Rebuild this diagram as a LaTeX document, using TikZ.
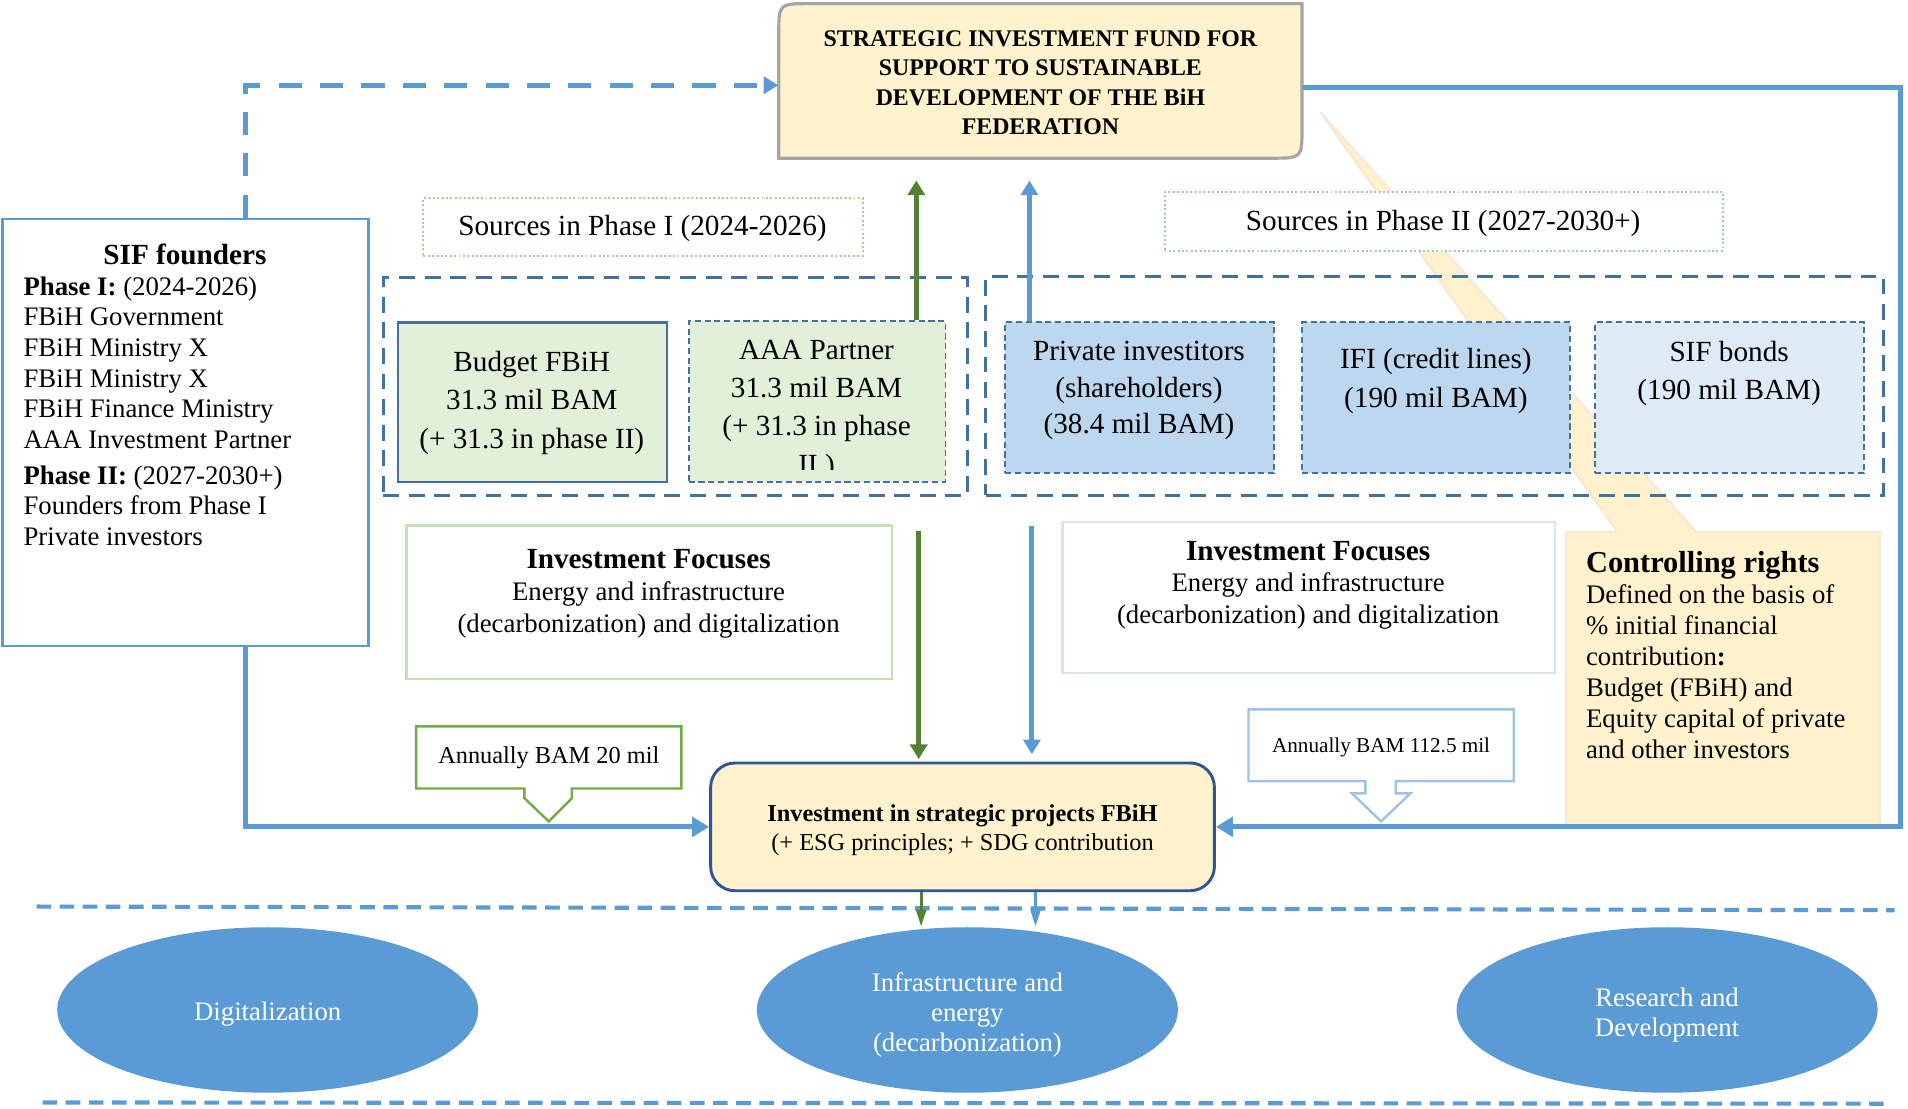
\documentclass[tikz,border=0pt]{standalone}
\usepackage{fontspec}
\setmainfont{Liberation Serif}
\usetikzlibrary{arrows.meta,fit,shapes.geometric}

\definecolor{sblue}{HTML}{5B9BD5}
\definecolor{dkblue}{HTML}{41719C}
\definecolor{navy}{HTML}{2F5597}
\definecolor{dkgreen}{HTML}{548235}
\definecolor{mgreen}{HTML}{70AD47}
\definecolor{palegreen}{HTML}{E2F0D9}
\definecolor{dotgreen}{HTML}{A9D18E}
\definecolor{focgreen}{HTML}{C5E0B4}
\definecolor{midblue}{HTML}{BDD7EE}
\definecolor{paleblue}{HTML}{DEEBF7}
\definecolor{dotblue}{HTML}{9DC3E6}
\definecolor{focblue}{HTML}{DAE3F3}
\definecolor{fundfill}{HTML}{FFF2CC}
\definecolor{fundgray}{HTML}{A5A5A5}
\definecolor{peach}{HTML}{FBE5D6}

\tikzset{
  txt/.style={inner sep=0pt, align=center, font=\fontsize{12}{15.75}\selectfont},
  focustxt/.style={inner sep=0pt, align=center, font=\fontsize{11}{13}\selectfont},
  srcbox/.style={draw=dkblue, line width=1pt, inner sep=0pt},
  dashbox/.style={srcbox, line width=0.8pt, dash pattern=on 2.5pt off 1.5pt},
  phasebox/.style={draw=dkblue, line width=1.3pt, dash pattern=on 6.5pt off 4pt, inner sep=0pt},
  dotbox/.style={line width=0.8pt, dash pattern=on 0.8pt off 1pt, inner sep=0pt},
  area/.style={ellipse, fill=sblue, minimum width=173pt, minimum height=68pt, inner sep=0pt},
  areatxt/.style={inner sep=0pt, text=white, align=center, font=\fontsize{11}{12.5}\selectfont},
  mainarrow/.style={draw=sblue, line width=2pt, -{Triangle[length=7pt,width=8pt]}},
  fundarrow/.style={draw=sblue, line width=2pt, dash pattern=on 9.5pt off 7.5pt, -{Triangle[length=6pt,width=7pt]}},
  greenarrow/.style={draw=dkgreen, fill=dkgreen, line width=2pt, -{Triangle[length=6pt,width=7pt]}},
  bluearrow/.style={draw=sblue, fill=sblue, line width=2pt, -{Triangle[length=6pt,width=7pt]}},
  thinarrow/.style={line width=1.3pt, -{Triangle[length=7pt,width=4pt]}},
  sepline/.style={draw=sblue, line width=1.7pt, dash pattern=on 6pt off 3.5pt}
}

\begin{document}
\begin{tikzpicture}[x=0.5pt,y=-0.5pt]
  \useasboundingbox (0,0) rectangle (1568,911);

  % controlling rights callout, behind everything
  \draw[fill=fundfill, draw=peach, line width=0.8pt] (1287,437) -- (1329,437) -- (1085,92) -- (1394,437) -- (1545,437) -- (1545,680) -- (1287,680) -- cycle;
  \node[anchor=north west, align=left, inner sep=0pt, font=\fontsize{11}{12.7}\selectfont] (ctrlt) at (1303,453) {{\bfseries\fontsize{12.5}{14}\selectfont Controlling rights}\\
    Defined on the basis of\\
    \% initial financial\\
    contribution\textbf{:}\\
    Budget (FBiH) and\\
    Equity capital of private\\
    and other investors};

  % fund
  \draw[fill=fundfill, draw=fundgray, line width=1.3pt] (640,130) -- (640,28) .. controls (640,3) .. (665,3) -- (1070,3) -- (1070,105) .. controls (1070,130) .. (1045,130) -- cycle;
  \node[fit={(640,3) (1070,130)}, inner sep=0pt] (fund) {};
  \node[inner sep=0pt, align=center, font=\bfseries\fontsize{9.8}{12}\selectfont] (fundt) at (855,68) {STRATEGIC INVESTMENT FUND FOR\\SUPPORT TO SUSTAINABLE\\DEVELOPMENT OF THE BiH\\FEDERATION};

  % sources
  \node[dotbox, draw=dotgreen, fit={(348,163) (709,210)}] (src1) {};
  \node[txt] (src1t) at (528,188) {Sources in Phase I (2024-2026)};
  \node[dotbox, draw=dotblue, fill=white, fit={(957,158) (1416,206)}] (src2) {};
  \node[txt] (src2t) at (1186,184) {Sources in Phase II (2027-2030+)};

  \node[phasebox, fit={(315,228) (795,407)}] (phase1) {};
  \node[phasebox, fit={(810,227) (1548,407)}] (phase2) {};

  \node[srcbox, fill=palegreen, fit={(327,265) (548,396)}] (budget) {};
  \node[txt] (budgett) at (437,331) {Budget FBiH\\31.3 mil BAM\\(+ 31.3 in phase II)};
  \node[dashbox, fill=palegreen, fit={(566,264) (777,396)}] (aaa) {};
  \begin{scope}
    \clip (566,264) rectangle (777,386);
    \node[txt] (aaat) at (671,337) {AAA Partner\\31.3 mil BAM\\(+ 31.3 in phase\\II )};
  \end{scope}

  \node[dashbox, fill=midblue, fit={(826,265) (1047,389)}] (private) {};
  \node[txt, font=\fontsize{12}{15}\selectfont] (privatet) at (936,321) {Private investitors\\(shareholders)\\(38.4 mil BAM)};
  \node[dashbox, fill=midblue, fit={(1070,265) (1290,389)}] (ifi) {};
  \node[txt] (ifit) at (1180,313) {IFI (credit lines)\\(190 mil BAM)};
  \node[dashbox, fill=paleblue, fit={(1311,265) (1532,389)}] (bonds) {};
  \node[txt] (bondst) at (1421,307) {SIF bonds\\(190 mil BAM)};

  % founders
  \node[draw=sblue, line width=1pt, fit={(2,180) (303,531)}, inner sep=0pt] (founders) {};
  \node[inner sep=0pt, font=\bfseries\fontsize{12}{14}\selectfont] (foundt) at (152,209) {SIF founders};
  \node[anchor=north west, align=left, inner sep=0pt, font=\fontsize{11}{12.6}\selectfont] (foundl) at (19,227) {\textbf{Phase I:} (2024-2026)\\
    FBiH Government\\
    FBiH Ministry X\\
    FBiH Ministry X\\
    FBiH Finance Ministry\\
    AAA Investment Partner\\[2pt]
    \textbf{Phase II:} (2027-2030+)\\
    Founders from Phase I\\
    Private investors};

  % investment focuses
  \node[draw=focgreen, line width=1pt, fit={(334,432) (733,558)}, inner sep=0pt] (focusL) {};
  \node[focustxt] (focusLt) at (533,488) {{\bfseries\fontsize{12}{13}\selectfont Investment Focuses}\\Energy and infrastructure\\(decarbonization) and digitalization};
  \node[draw=focblue, line width=1pt, fit={(873,429) (1278,553)}, inner sep=0pt] (focusR) {};
  \node[focustxt] (focusRt) at (1075,481) {{\bfseries\fontsize{12}{13}\selectfont Investment Focuses}\\Energy and infrastructure\\(decarbonization) and digitalization};

  % annual callouts
  \draw[draw=mgreen, fill=white, line width=1pt] (342,597) -- (560,597) -- (560,648) -- (470,648) -- (470,656) -- (451,675) -- (431,656) -- (431,648) -- (342,648) -- cycle;
  \node[inner sep=0pt, font=\fontsize{10}{12}\selectfont] (annual1) at (451,623) {Annually BAM 20 mil};
  \draw[draw=dotblue, fill=white, line width=1pt] (1026,583) -- (1244,583) -- (1244,642) -- (1147,642) -- (1147,652) -- (1159,652) -- (1135,675) -- (1111,652) -- (1122,652) -- (1122,642) -- (1026,642) -- cycle;
  \node[inner sep=0pt, font=\fontsize{8.7}{10}\selectfont] (annual2) at (1135,614) {Annually BAM 112.5 mil};

  % projects
  \node[fit={(584,627) (998,732)}, inner sep=0pt, draw=navy, line width=1.2pt, fill=fundfill, rounded corners=10pt] (project) {};
  \node[inner sep=0pt, align=center, font=\fontsize{10}{12}\selectfont] (projectt) at (791,682) {\textbf{Investment in strategic projects FBiH}\\(+ ESG principles; + SDG contribution};

  % areas
  \node[area] (digital) at (220,830) {};
  \node[areatxt] (digitalt) at (220,833) {Digitalization};
  \node[area] (infra) at (795,830) {};
  \node[areatxt] (infrat) at (795,834) {Infrastructure and\\energy\\(decarbonization)};
  \node[area] (research) at (1370,830) {};
  \node[areatxt] (researcht) at (1370,834) {Research and\\Development};

  \draw[sepline] (30,745) -- (1557,748);
  \draw[sepline] (35,906) -- (1550,907);

  % connectors
  \coordinate (fx) at (202,70);
  \coordinate (rc) at (1562,72);
  \coordinate (gx) at (753,0);
  \coordinate (bx) at (846,0);
  \coordinate (gd) at (755,436);
  \coordinate (bd) at (848,432);
  \coordinate (gl) at (757,0);
  \coordinate (bl) at (851,0);
  \draw[fundarrow] (founders.north -| fx) -- (fx) -- (fund.west |- fx);
  \draw[mainarrow] (fund.east |- rc) -- (rc) |- (project.east);
  \draw[mainarrow] (founders.south -| fx) |- (project.west);
  \draw[greenarrow, shorten >=9pt] (aaa.north -| gx) -- (fund.south -| gx);
  \draw[bluearrow, shorten >=9pt] (private.north -| bx) -- (fund.south -| bx);
  \draw[greenarrow, shorten >=1pt] (gd) -- (gd |- project.north);
  \draw[bluearrow, shorten >=3pt] (bd) -- (bd |- project.north);
  \draw[thinarrow, draw=dkgreen] (project.south -| gl) -- (infra.north -| gl);
  \draw[thinarrow, draw=sblue] (project.south -| bl) -- (infra.north -| bl);
\end{tikzpicture}
\end{document}
